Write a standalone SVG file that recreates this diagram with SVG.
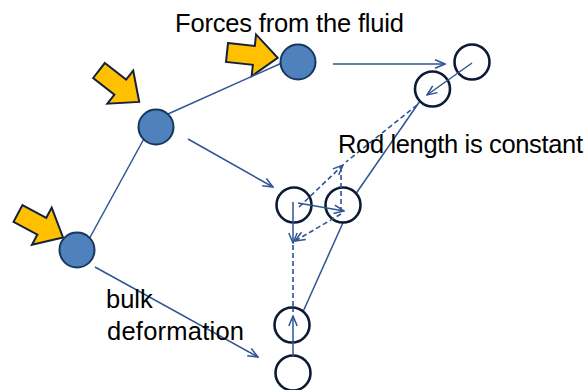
<svg xmlns="http://www.w3.org/2000/svg" width="587" height="390" viewBox="0 0 587 390">
  <style>
    .force { fill: #FFC000; stroke: #14213D; stroke-width: 2; stroke-linejoin: miter; }
    .bead { fill: #4F81BD; stroke: #17375E; stroke-width: 2; }
    .ghost { fill: #FFFFFF; stroke: #0D1A33; stroke-width: 2.6; }
    .rod { stroke: #2F5496; stroke-width: 1.5; fill: none; }
    .mv { stroke: #2F5496; stroke-width: 1.5; fill: none; marker-end: url(#vhead); }
    .dash { stroke: #2F5496; stroke-width: 1.6; fill: none; stroke-dasharray: 5 3; }
    .lbl { font-family: "Liberation Sans", Arial, sans-serif; font-size: 25.5px; fill: #000000; }
  </style>
  <defs>
    <marker id="vhead" viewBox="0 0 12 10" refX="11" refY="5" markerWidth="12" markerHeight="10" markerUnits="userSpaceOnUse" orient="auto">
      <path d="M1,0.8 L11,5 L1,9.2" fill="none" stroke="#2F5496" stroke-width="1.5"/>
    </marker>
    <path id="push" d="M0,-9.5 H27 V-21 L51,0 L27,21 V9.5 H0 Z"/>
  </defs>

  <!-- fluid force arrows -->
  <g id="forces">
    <use href="#push" class="force" transform="translate(227,52.5) rotate(6)"/>
    <use href="#push" class="force" transform="translate(99,70.5) rotate(38)"/>
    <use href="#push" class="force" transform="translate(18,213.5) rotate(28)"/>
  </g>

  <!-- rods and displacement connectors -->
  <g id="connectors">
    <line class="rod" x1="88" y1="241" x2="146" y2="135"/>
    <line class="rod" x1="168" y1="114" x2="284" y2="62"/>
    <line class="rod" x1="420" y1="101" x2="355" y2="195"/>
    <line class="rod" x1="346" y1="216" x2="302" y2="314"/>
    <line class="mv" x1="333" y1="64" x2="445" y2="64"/>
    <line class="mv" x1="188" y1="139" x2="273" y2="187"/>
    <line class="mv" x1="95" y1="267" x2="258" y2="357"/>
  </g>

  <!-- beads before deformation -->
  <g id="bead-top"><circle class="bead" cx="298" cy="62" r="17.5"/></g>
  <g id="bead-mid"><circle class="bead" cx="156" cy="127" r="17.5"/></g>
  <g id="bead-low"><circle class="bead" cx="77" cy="250" r="17.5"/></g>

  <!-- bead positions after deformation -->
  <g id="ghost-a"><circle class="ghost" cx="472" cy="62" r="17.5"/></g>
  <g id="ghost-b"><circle class="ghost" cx="432.5" cy="89" r="17.5"/></g>
  <g id="ghost-c"><circle class="ghost" cx="294" cy="205" r="17.5"/></g>
  <g id="ghost-d"><circle class="ghost" cx="343" cy="205" r="17.5"/></g>
  <g id="ghost-e"><circle class="ghost" cx="292" cy="325" r="17.5"/></g>
  <g id="ghost-f"><circle class="ghost" cx="293" cy="373" r="17.5"/></g>

  <!-- corrections that keep rod length constant -->
  <g id="corrections">
    <line class="mv" x1="472" y1="63" x2="427" y2="95"/>
    <line class="mv" x1="298" y1="203" x2="344" y2="211"/>
    <line class="mv" x1="293" y1="202" x2="293" y2="243"/>
    <line class="mv" x1="293" y1="356" x2="293" y2="316"/>
    <path class="dash" d="M299,207 L343,165" marker-end="url(#vhead)"/>
    <path class="dash" d="M341,167 V213"/>
    <path class="dash" d="M341,214 L295,241" marker-end="url(#vhead)"/>
    <path class="dash" d="M293,245 V312"/>
    <path class="dash" d="M417,105 L346,162"/>
  </g>

  <!-- labels -->
  <g id="labels">
    <text class="lbl" x="175" y="32" textLength="229" lengthAdjust="spacing">Forces from the fluid</text>
    <text class="lbl" x="338" y="153" textLength="245" lengthAdjust="spacing">Rod length is constant</text>
    <text class="lbl" x="106" y="308">bulk</text>
    <text class="lbl" x="107" y="340" textLength="137" lengthAdjust="spacing">deformation</text>
  </g>
</svg>
